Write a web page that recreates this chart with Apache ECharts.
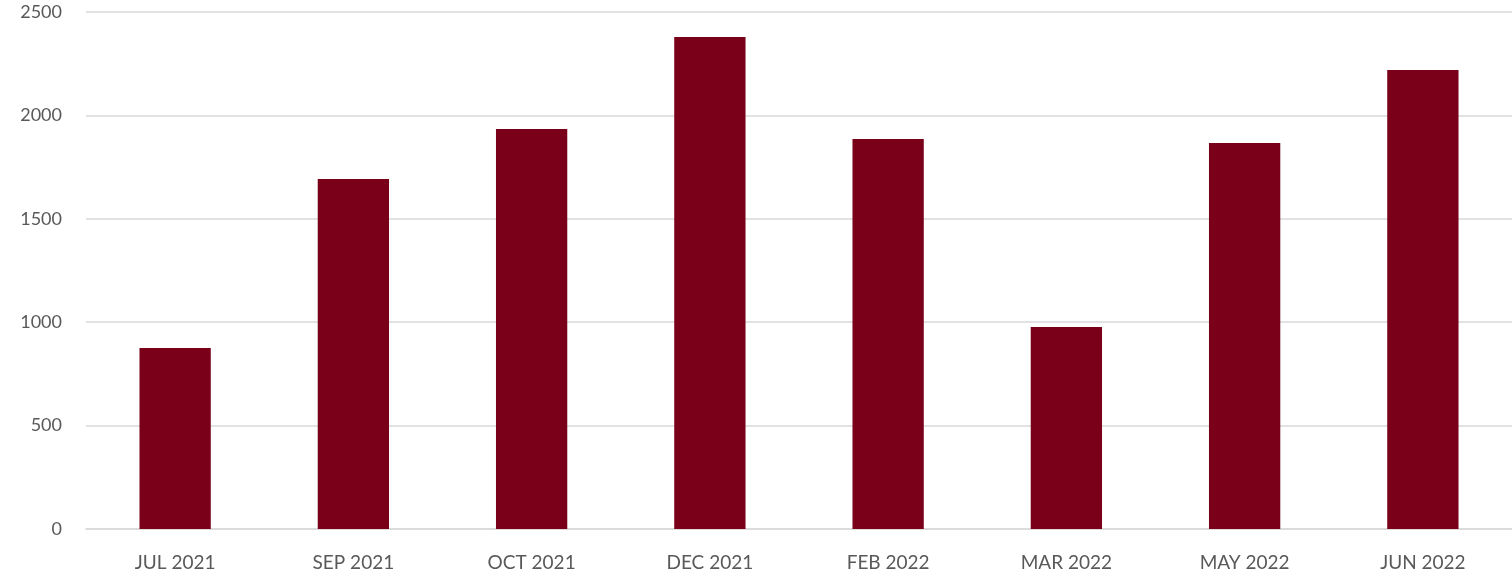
<!DOCTYPE html>
<html><head><meta charset="utf-8">
<script src="https://cdn.jsdelivr.net/npm/echarts@6/dist/echarts.min.js"></script>
<style>html,body{margin:0;padding:0;background:#fff}#c{width:1512px;height:573px}</style>
</head><body><div id="c"></div>
<script>
const categories = ['JUL 2021','SEP 2021','OCT 2021','DEC 2021','FEB 2022','MAR 2022','MAY 2022','JUN 2022'];
const values = [875, 1692, 1934, 2379, 1886, 977, 1867, 2220];
const chart = echarts.init(document.getElementById('c'));
chart.setOption({
  animation:false,
  grid:{left:86,right:0,top:12,bottom:44,containLabel:false},
  xAxis:{type:'category',data:categories,
    axisLine:{show:true,lineStyle:{color:'#d9d9d9',width:1.5}},
    axisTick:{show:false},
    axisLabel:{color:'#595959',fontFamily:'Lato',fontSize:19,margin:24}},
  yAxis:{type:'value',min:0,max:2500,interval:500,
    axisLine:{show:false},axisTick:{show:false},
    splitLine:{lineStyle:{color:'#d9d9d9',width:1.5}},
    axisLabel:{color:'#595959',fontFamily:'Lato',fontSize:18,margin:24,formatter:v=>String(v)}},
  series:[{type:'bar',data:values,barWidth:'40%',itemStyle:{color:'#7a0019'}}]
});
</script></body></html>
